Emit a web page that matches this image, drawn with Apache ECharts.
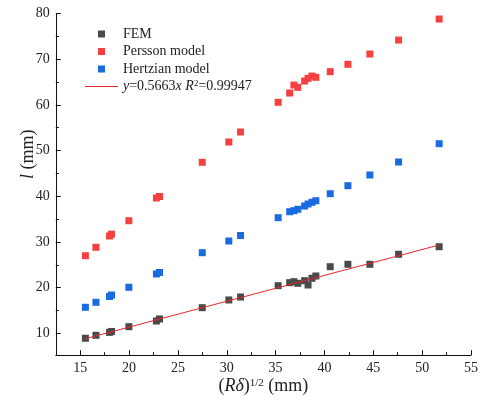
<!DOCTYPE html>
<html>
<head>
<meta charset="UTF-8">
<title>l vs (R delta)^1/2</title>
<script src="https://cdn.jsdelivr.net/npm/echarts@6/dist/echarts.min.js"></script>
<style>
	html, body { margin: 0; padding: 0; background: #fff; }
	#chart { width: 481px; height: 405px; }
</style>
</head>
<body>
<div id="chart"></div>
<script>
	// (R delta)^1/2 values shared by all three data sets
	var xVals = [15.53, 16.61, 18.0, 18.2, 19.98, 22.8, 23.12, 27.49, 30.21, 31.41, 35.26, 36.44,
		36.87, 37.27, 37.97, 38.32, 38.72, 39.12, 40.59, 42.40, 44.65, 47.59, 51.74];
	var femVals = [8.91, 9.56, 10.2, 10.4, 11.44, 12.69, 13.13, 15.6, 17.29, 17.94, 20.42, 21.07,
		21.29, 20.94, 21.51, 20.57, 22.04, 22.54, 24.58, 25.10, 25.10, 27.29, 28.95];
	var perssonVals = [26.98, 28.82, 31.3, 31.7, 34.64, 39.61, 39.94, 47.43, 51.87, 54.06, 60.56, 62.59,
		64.34, 63.84, 65.22, 65.81, 66.31, 66.03, 67.26, 68.88, 71.13, 74.19, 78.79];
	var hertzVals = [15.69, 16.78, 18.05, 18.38, 20.07, 22.98, 23.31, 27.64, 30.2, 31.4, 35.30, 36.61,
		36.83, 37.14, 37.86, 38.30, 38.67, 39.02, 40.55, 42.30, 44.65, 47.49, 51.50];
	// fitted line end points
	var fitX = [15.5, 51.7];
	var fitY = [8.8, 29.3];

	var xTicks = [15, 20, 25, 30, 35, 40, 45, 50, 55];
	var xMinor = [17.5, 22.5, 27.5, 32.5, 37.5, 42.5, 47.5, 52.5];
	var yTicks = [10, 20, 30, 40, 50, 60, 70, 80];
	var yMinor = [15, 25, 35, 45, 55, 65, 75];

	var fitName = 'fit';
	var font = '"Liberation Serif", "Times New Roman", serif';
	var squareIcon = 'path://M0,0h10v10h-10z';
	var lineIcon = 'path://M0,0h66v2h-66z';

	function pairs(xs, ys) {
		var out = [];
		for (var i = 0; i < xs.length; i++) out.push([xs[i], ys[i]]);
		return out;
	}

	var richText = {
		i: { fontFamily: font, fontStyle: 'italic', fontSize: 14, color: '#222' },
		s: { fontFamily: font, fontSize: 9, verticalAlign: 'top', color: '#222' }
	};
	var richName = {
		i: { fontFamily: font, fontStyle: 'italic', fontSize: 18, color: '#222' },
		s: { fontFamily: font, fontSize: 11, verticalAlign: 'top', color: '#222' }
	};

	var myChart = echarts.init(document.getElementById('chart'));

	option = {
		backgroundColor: '#fff',
		animation: false,
		grid: { left: 55.8, right: 2.3, top: 13.5, bottom: 49.8 },
		legend: {
			orient: 'vertical',
			left: 80,
			top: 22,
			itemWidth: 33,
			itemHeight: 7,
			itemGap: 3.5,
			symbolKeepAspect: true,
			textStyle: { fontFamily: font, fontSize: 14, color: '#222', rich: richText },
			formatter: function (name) {
				if (name === fitName) return '{i|y}=0.5663{i|x} {i|R}{s|2}=0.99947';
				return name;
			},
			data: [
				{ name: 'FEM', icon: squareIcon },
				{ name: 'Persson model', icon: squareIcon },
				{ name: 'Hertzian model', icon: squareIcon },
				{ name: fitName, icon: lineIcon }
			]
		},
		xAxis: [{
			type: 'value',
			min: 12.5,
			max: 55,
			position: 'bottom',
			name: '({i|R}{i|δ}){s|1/2} (mm)',
			nameLocation: 'middle',
			nameGap: 22,
			nameMoveOverlap: false,
			nameTextStyle: { fontFamily: font, fontSize: 18, color: '#222', rich: richName },
			axisLine: { lineStyle: { color: '#111', width: 1 } },
			axisTick: { inside: true, length: 5, customValues: xTicks, lineStyle: { color: '#111' } },
			axisLabel: { customValues: xTicks, margin: 6, fontFamily: font, fontSize: 14, color: '#222' },
			splitLine: { show: false }
		}, {
			type: 'value',
			min: 12.5,
			max: 55,
			position: 'bottom',
			axisLine: { show: false },
			axisTick: { inside: true, length: 3, customValues: xMinor, lineStyle: { color: '#111' } },
			axisLabel: { show: false },
			splitLine: { show: false }
		}],
		yAxis: [{
			type: 'value',
			min: 5.2,
			max: 80,
			position: 'left',
			name: '{i|l} (mm)',
			nameLocation: 'middle',
			nameGap: 19,
			nameMoveOverlap: false,
			nameTextStyle: { fontFamily: font, fontSize: 18, color: '#222', rich: richName, padding: [0, 0, 0, 60] },
			axisLine: { show: true, lineStyle: { color: '#111', width: 1 } },
			axisTick: { show: true, inside: true, length: 5, customValues: yTicks, lineStyle: { color: '#111' } },
			axisLabel: { customValues: yTicks, margin: 6, fontFamily: font, fontSize: 14, color: '#222' },
			splitLine: { show: false }
		}, {
			type: 'value',
			min: 5.2,
			max: 80,
			position: 'left',
			axisLine: { show: false },
			axisTick: { show: true, inside: true, length: 3, customValues: yMinor, lineStyle: { color: '#111' } },
			axisLabel: { show: false },
			splitLine: { show: false }
		}],
		series: [{
			name: 'FEM',
			type: 'scatter',
			symbol: 'rect',
			symbolSize: 7,
			itemStyle: { color: '#4a4a4a', opacity: 1 },
			data: pairs(xVals, femVals)
		}, {
			name: 'Persson model',
			type: 'scatter',
			symbol: 'rect',
			symbolSize: 7,
			itemStyle: { color: '#f54040', opacity: 1 },
			data: pairs(xVals, perssonVals)
		}, {
			name: 'Hertzian model',
			type: 'scatter',
			symbol: 'rect',
			symbolSize: 7,
			itemStyle: { color: '#1a6ae0', opacity: 1 },
			data: pairs(xVals, hertzVals)
		}, {
			name: fitName,
			type: 'line',
			symbol: 'none',
			lineStyle: { color: '#e8262e', width: 1 },
			itemStyle: { color: '#e8262e' },
			data: pairs(fitX, fitY)
		}]
	};
	myChart.setOption(option);
</script>
</body>
</html>
